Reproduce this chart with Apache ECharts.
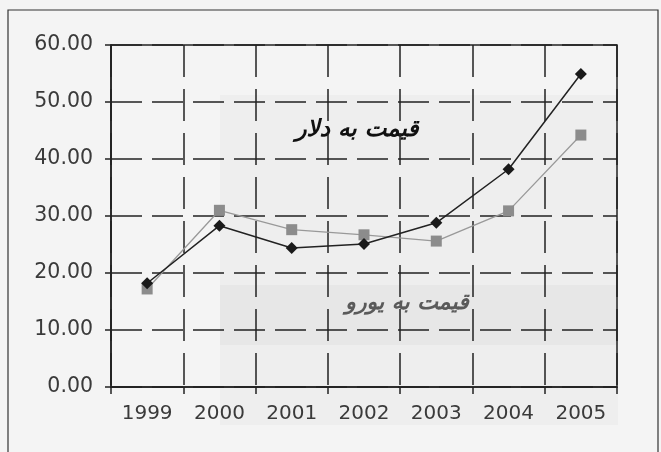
<!DOCTYPE html>
<html>
<head>
<meta charset="utf-8">
<script src="https://cdn.jsdelivr.net/npm/echarts@6/dist/echarts.min.js"></script>
<style>
html,body{margin:0;padding:0;background:#f4f4f4;}
#c{width:661px;height:452px;}
</style>
</head>
<body>
<div id="c"></div>
<script>
const years = ['1999','2000','2001','2002','2003','2004','2005'];
const dollarPrice = [18.2, 28.3, 24.4, 25.1, 28.8, 38.2, 54.9];
const euroPrice = [17.2, 31.0, 27.6, 26.7, 25.6, 30.9, 44.2];
const yTicks = {min: 0, max: 60, interval: 10};
const dollarLabel = 'قیمت به دلار';
const euroLabel = 'قیمت به یورو';

const chart = echarts.init(document.getElementById('c'));
chart.setOption({
  backgroundColor: '#f4f4f4',
  animation: false,
  grid: {left: 111, right: 44, top: 45, bottom: 65, show: true, borderColor: '#222', borderWidth: 1.5, backgroundColor: 'transparent'},
  xAxis: {
    type: 'category', data: years, boundaryGap: true,
    axisLine: {lineStyle: {color: '#222', width: 1.5}},
    axisTick: {show: true, length: 7, lineStyle: {color: '#222', width: 1.5}},
    axisLabel: {color: '#3a3a3a', fontSize: 20, fontFamily: 'DejaVu Sans', margin: 17},
    splitLine: {show: true, lineStyle: {color: '#222', width: 1.5, type: [32, 12]}}
  },
  yAxis: {
    type: 'value', min: yTicks.min, max: yTicks.max, interval: yTicks.interval,
    axisLine: {show: true, lineStyle: {color: '#222', width: 1.5}},
    axisTick: {show: true, length: 6, lineStyle: {color: '#222', width: 1.5}},
    axisLabel: {color: '#3a3a3a', fontSize: 20.5, fontFamily: 'DejaVu Sans', margin: 18,
      formatter: v => v.toFixed(2)},
    splitLine: {show: true, lineStyle: {color: '#222', width: 1.5, type: [31, 10]}}
  },
  series: [
    {name: 'euro', type: 'line', data: euroPrice, symbol: 'rect', symbolSize: 11,
     lineStyle: {color: '#999', width: 1.3}, itemStyle: {color: '#8c8c8c'}, z: 3},
    {name: 'dollar', type: 'line', data: dollarPrice, symbol: 'diamond', symbolSize: 12,
     lineStyle: {color: '#222', width: 1.5}, itemStyle: {color: '#1a1a1a'}, z: 4}
  ],
  graphic: [
    {type: 'rect', z: -10, shape: {x: 220, y: 95, width: 398, height: 330}, style: {fill: '#eeeeee'}, silent: true},
    {type: 'rect', z: -9, shape: {x: 220, y: 285, width: 398, height: 60}, style: {fill: '#e7e7e7'}, silent: true},
    {type: 'rect', shape: {x: 8, y: 10, width: 650, height: 460}, style: {fill: 'none', stroke: '#333', lineWidth: 1.2}, silent: true},
    {type: 'text', x: 357, y: 130, style: {text: dollarLabel, font: 'bold italic 23px "DejaVu Sans"', fill: '#111', align: 'center', verticalAlign: 'middle'}},
    {type: 'text', x: 407, y: 303, style: {text: euroLabel, font: 'bold italic 22px "DejaVu Sans"', fill: '#5a5a5a', align: 'center', verticalAlign: 'middle'}}
  ]
});
</script>
</body>
</html>
